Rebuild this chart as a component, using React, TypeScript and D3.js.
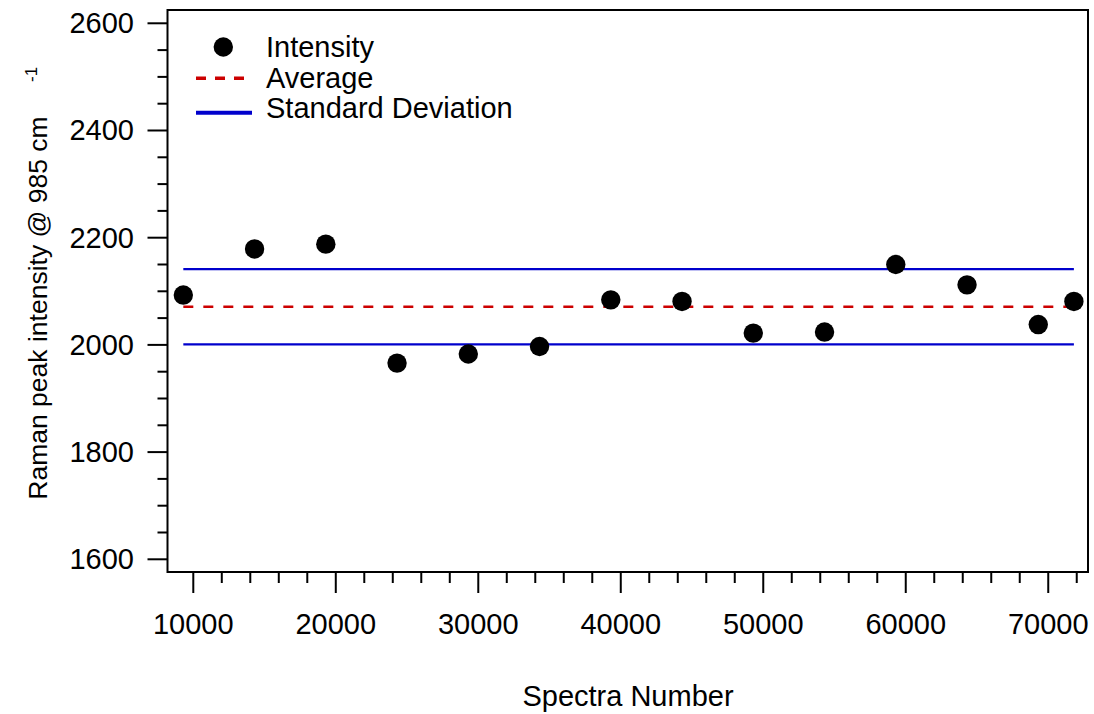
import React from "react";
import * as d3 from "d3";

const spectraNumbers = [9300, 14300, 19300, 24300, 29300, 34300, 39300, 44300, 49300, 54300, 59300, 64300, 69300, 71800];
const intensities = [2093, 2179, 2188, 1966, 1983, 1997, 2084, 2081, 2022, 2024, 2150, 2112, 2038, 2081];
const xTicks = [10000, 20000, 30000, 40000, 50000, 60000, 70000];
const yTicks = [1600, 1800, 2000, 2200, 2400, 2600];
const legendLabels = ["Intensity", "Average", "Standard Deviation"];

const W = 1094;
const H = 714;
const FONT = "'Liberation Sans', Arial, Helvetica, sans-serif";
const RED = "#cc0000";
const BLUE = "#0000cc";

export default function App() {
  const x = d3.scaleLinear().domain([8190, 72790]).range([167.5, 1088]);
  const y = d3.scaleLinear().domain([1576.3, 2624.8]).range([572, 10]);

  const mean = d3.mean(intensities) as number;
  const sd = d3.deviation(intensities) as number;
  const x0 = x(d3.min(spectraNumbers) as number);
  const x1 = x(d3.max(spectraNumbers) as number);

  const xMinor = d3.range(10000, 72001, 2000).filter((v) => v % 10000 !== 0);
  const yMinor = d3.range(1600, 2601, 50).filter((v) => v % 200 !== 0);

  const hline = (v: number) => d3.line<number>().x((d) => d).y(() => y(v))([x0, x1]) as string;

  const left = 167.5;
  const bottom = 572;

  return (
    <div style={{ position: "absolute", left: 0, top: 0 }}>
      <svg width={W} height={H} style={{ display: "block", background: "#fff" }} fontFamily={FONT}>
        {/* reference lines */}
        <path d={hline(mean + sd)} stroke={BLUE} strokeWidth={2.3} fill="none" />
        <path d={hline(mean - sd)} stroke={BLUE} strokeWidth={2.3} fill="none" />
        <path d={hline(mean)} stroke={RED} strokeWidth={2.6} strokeDasharray="10 10" fill="none" />

        {/* points */}
        {spectraNumbers.map((s, i) => (
          <circle key={i} cx={x(s)} cy={y(intensities[i])} r={9.7} fill="#000" />
        ))}

        {/* frame */}
        <rect x={left} y={10} width={1088 - left} height={bottom - 10} fill="none" stroke="#000" strokeWidth={2} />

        {/* x ticks */}
        {xTicks.map((t) => (
          <g key={t}>
            <line x1={x(t)} x2={x(t)} y1={bottom} y2={bottom + 21} stroke="#000" strokeWidth={2} />
            <text x={x(t)} y={634} fontSize={29} textAnchor="middle" fill="#000">
              {t}
            </text>
          </g>
        ))}
        {xMinor.map((t) => (
          <line key={t} x1={x(t)} x2={x(t)} y1={bottom} y2={bottom + 11} stroke="#000" strokeWidth={2} />
        ))}

        {/* y ticks */}
        {yTicks.map((t) => (
          <g key={t}>
            <line x1={left - 20} x2={left} y1={y(t)} y2={y(t)} stroke="#000" strokeWidth={2} />
            <text x={134} y={y(t) + 10} fontSize={29} textAnchor="end" fill="#000">
              {t}
            </text>
          </g>
        ))}
        {yMinor.map((t) => (
          <line key={t} x1={left - 10} x2={left} y1={y(t)} y2={y(t)} stroke="#000" strokeWidth={2} />
        ))}

        {/* axis labels */}
        <text x={628} y={706} fontSize={29} textAnchor="middle" fill="#000">
          Spectra Number
        </text>
        <text transform="translate(47,308) rotate(-90)" fontSize={26.5} textAnchor="middle" fill="#000">
          Raman peak intensity @ 985 cm
        </text>
        <text transform="translate(47,82) rotate(-90)" fontSize={17} fill="#000" dy={-10}>
          -1
        </text>

        {/* legend */}
        <circle cx={223.3} cy={47} r={9.7} fill="#000" />
        <text x={266} y={57} fontSize={29} fill="#000">{legendLabels[0]}</text>
        <line x1={196} x2={246} y1={78.3} y2={78.3} stroke={RED} strokeWidth={3.5} strokeDasharray="10 9" />
        <text x={266} y={88} fontSize={29} fill="#000">{legendLabels[1]}</text>
        <line x1={196} x2={252} y1={112.7} y2={112.7} stroke={BLUE} strokeWidth={4} />
        <text x={266} y={118} fontSize={29} fill="#000">{legendLabels[2]}</text>
      </svg>
    </div>
  );
}
